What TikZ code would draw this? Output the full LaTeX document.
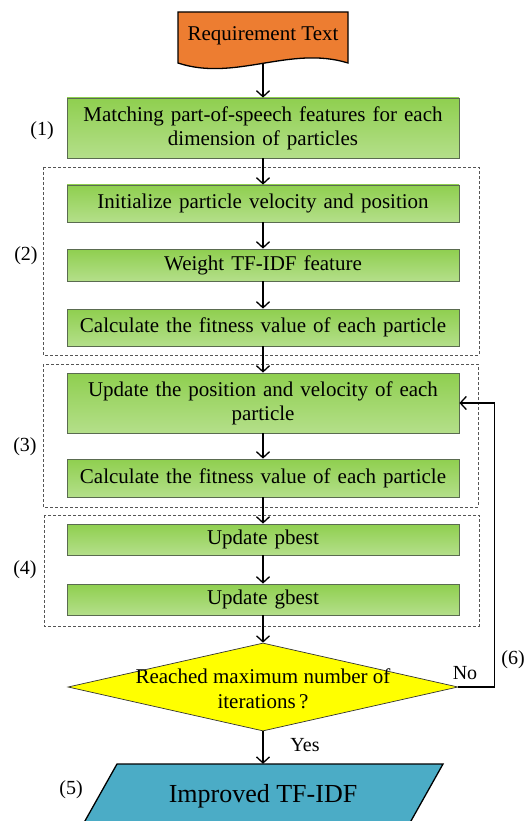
\documentclass[tikz,border=0pt]{standalone}
\usepackage{fontspec}
\setmainfont[Ligatures=NoCommon]{Liberation Serif}
\usetikzlibrary{arrows.meta,shapes.geometric}

\definecolor{docorange}{HTML}{ED7D31}
\definecolor{grtop}{HTML}{8FCF4F}
\definecolor{grbot}{HTML}{B4DF8A}
\definecolor{boxline}{HTML}{5A6B50}
\definecolor{outblue}{HTML}{4BACC6}
\definecolor{decyellow}{HTML}{FFFF00}
\definecolor{grpline}{HTML}{555555}

\begin{document}
\begin{tikzpicture}[x=1pt,y=-1pt,
  txt/.style={font=\fontsize{21}{24}\selectfont, inner sep=0pt, align=center},
  stepbox/.style={txt, draw=boxline, line width=0.8pt, top color=grtop, bottom color=grbot,
    minimum width=392pt, text width=384pt, inner ysep=0pt},
  grp/.style={draw=grpline, line width=0.8pt, dash pattern=on 3pt off 2pt},
  arr/.style={draw=black, line width=1.3pt, -{Straight Barb[length=6pt,width=13pt,line width=1.3pt]}},
  tag/.style={font=\fontsize{20}{24}\selectfont, inner sep=0pt}
]
\useasboundingbox (0,0) rectangle (525,821);

% input document shape with wavy lower edge
\path[fill=docorange, draw=black, line width=1.3pt]
  (178,12) -- (348,12) -- (348,63)
  .. controls (290,45) and (235,82) .. (178,63) -- cycle;
\node[txt] (req) at (263,36) {Requirement Text};
\coordinate (reqbot) at (263,63);

% dashed groups
\draw[grp] (43,167) rectangle (479,355);
\draw[grp] (43,364) rectangle (478,507);
\draw[grp] (44,515) rectangle (479,626);

% process steps
\node[stepbox, minimum height=60pt] (b1) at (263,128) {Matching part-of-speech features for each\\ dimension of particles};
\node[stepbox, minimum height=37pt] (init) at (263,203.5) {Initialize particle velocity and position};
\node[stepbox, minimum height=32pt] (weight) at (263,265) {Weight TF-IDF feature};
\node[stepbox, minimum height=37pt] (fit1) at (263,327.5) {Calculate the fitness value of each particle};
\node[stepbox, minimum height=60pt] (upd) at (263,403) {Update the position and velocity of each\\ particle};
\node[stepbox, minimum height=38pt] (fit2) at (263,478) {Calculate the fitness value of each particle};
\node[stepbox, minimum height=31pt] (pbest) at (263,539.5) {Update pbest};
\node[stepbox, minimum height=31pt] (gbest) at (263,599.5) {Update gbest};

% decision
\node[diamond, draw=black!80, fill=decyellow, line width=0.7pt, inner sep=0pt,
  minimum width=390pt, minimum height=88pt] (dec) at (263,687) {};
\node[txt, font=\fontsize{21}{25}\selectfont] (dectxt) at (263,689) {Reached maximum number of\\ iterations\,?};

% output parallelogram
\path[fill=outblue, draw=black, line width=1.3pt]
  (117,764) -- (443,764) -- (407,828) -- (81,828) -- cycle;
\node[txt, font=\fontsize{26}{30}\selectfont, minimum height=64pt] (out) at (263,796) {Improved TF-IDF};

% connectors
\draw[arr] (reqbot) -- (b1);
\draw[arr] (b1) -- (init);
\draw[arr] (init) -- (weight);
\draw[arr] (weight) -- (fit1);
\draw[arr] (fit1) -- (upd);
\draw[arr] (upd) -- (fit2);
\draw[arr] (fit2) -- (pbest);
\draw[arr] (pbest) -- (gbest);
\draw[arr] (gbest) -- (dec);
\draw[arr] (dec.south) -- (out.north);
\draw[arr] (dec.east) -- ++(36,0) |- (upd.east);

% branch labels
\node[tag] (nolab) at (465,673) {No};
\node[tag] (yeslab) at (305,745) {Yes};

% stage numbers
\node[tag] (s1) at (42,131) {(1)};
\node[tag] (s2) at (26,256) {(2)};
\node[tag] (s3) at (25,447) {(3)};
\node[tag] (s4) at (25,570) {(4)};
\node[tag] (s5) at (71,790) {(5)};
\node[tag] (s6) at (513,660) {(6)};
\end{tikzpicture}
\end{document}
